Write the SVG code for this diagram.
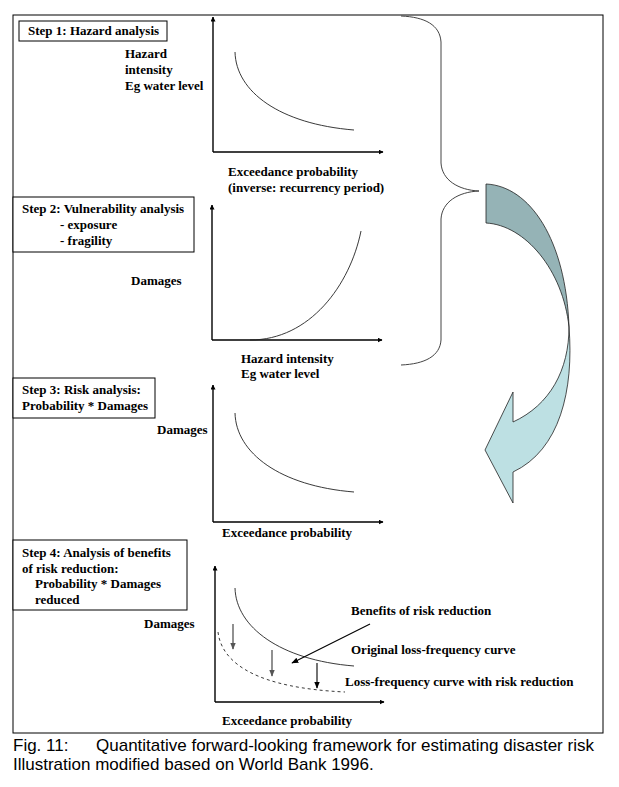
<svg xmlns="http://www.w3.org/2000/svg" width="619" height="787" viewBox="0 0 619 787">
<style>
.t{font-family:"Liberation Serif","Times New Roman",serif;font-weight:bold;font-size:13px;fill:#000}
.cap{font-family:"Liberation Sans",Arial,sans-serif;font-size:17px;fill:#000}
.box{fill:#fff;stroke:#000;stroke-width:1}
.ax{fill:none;stroke:#000;stroke-width:1.4}
.cv{fill:none;stroke:#222;stroke-width:0.9}
.dash{fill:none;stroke:#222;stroke-width:0.9;stroke-dasharray:3,3}
.brace{fill:none;stroke:#444;stroke-width:1}
</style>
<defs>
<marker id="ah" viewBox="0 0 10 10" refX="9" refY="5" markerWidth="5" markerHeight="5" orient="auto" markerUnits="userSpaceOnUse">
<path d="M0,0 L10,5 L0,10 Z" fill="#000"/>
</marker>
<marker id="ahs" viewBox="0 0 10 10" refX="9" refY="5" markerWidth="7" markerHeight="7" orient="auto" markerUnits="userSpaceOnUse">
<path d="M0,1 L10,5 L0,9 Z" fill="#000"/>
</marker>
<marker id="ahg" viewBox="0 0 10 10" refX="9" refY="5" markerWidth="7" markerHeight="7" orient="auto" markerUnits="userSpaceOnUse">
<path d="M0,1 L10,5 L0,9 Z" fill="#555"/>
</marker>
</defs>
<rect width="619" height="787" fill="#fff"/>
<rect x="13" y="15" width="590" height="718" fill="none" stroke="#000" stroke-width="1"/>

<g id="step1">
<rect class="box" x="19" y="21" width="148" height="20"/>
<text class="t" x="28" y="35">Step 1: Hazard analysis</text>
</g>
<g id="chart1">
<line class="ax" x1="213" y1="152" x2="213" y2="17" marker-end="url(#ah)"/>
<line class="ax" x1="213" y1="152" x2="383" y2="152" marker-end="url(#ah)"/>
<path class="cv" d="M235,52 C236,92 280,124 354,130"/>
<text class="t" x="125" y="58">Hazard</text>
<text class="t" x="125" y="74">intensity</text>
<text class="t" x="125" y="90">Eg water level</text>
<text class="t" x="228" y="176">Exceedance probability</text>
<text class="t" x="228" y="192">(inverse: recurrency period)</text>
</g>

<g id="step2">
<rect class="box" x="13" y="197" width="181" height="55"/>
<text class="t" x="22" y="213">Step 2: Vulnerability analysis</text>
<text class="t" x="60" y="229">- exposure</text>
<text class="t" x="60" y="245">- fragility</text>
</g>
<g id="chart2">
<line class="ax" x1="212" y1="340" x2="212" y2="205" marker-end="url(#ah)"/>
<line class="ax" x1="212" y1="340" x2="382" y2="340" marker-end="url(#ah)"/>
<path class="cv" d="M250,340 C310,340 350,285 361,231"/>
<text class="t" x="131" y="285">Damages</text>
<text class="t" x="241" y="363">Hazard intensity</text>
<text class="t" x="241" y="378">Eg water level</text>
</g>

<g id="step3">
<rect class="box" x="13" y="378" width="142" height="40"/>
<text class="t" x="22" y="394">Step 3: Risk analysis:</text>
<text class="t" x="22" y="410">Probability * Damages</text>
</g>
<g id="chart3">
<line class="ax" x1="213" y1="522" x2="213" y2="385" marker-end="url(#ah)"/>
<line class="ax" x1="213" y1="522" x2="383" y2="522" marker-end="url(#ah)"/>
<path class="cv" d="M235,413 C236,453 280,486 354,492"/>
<text class="t" x="157" y="434">Damages</text>
<text class="t" x="222" y="537">Exceedance probability</text>
</g>

<g id="step4">
<rect class="box" x="13" y="540" width="174" height="70"/>
<text class="t" x="22" y="557">Step 4: Analysis of benefits</text>
<text class="t" x="22" y="573">of risk reduction:</text>
<text class="t" x="35" y="588">Probability * Damages</text>
<text class="t" x="35" y="604">reduced</text>
</g>
<g id="chart4">
<line class="ax" x1="215" y1="702" x2="215" y2="566" marker-end="url(#ah)"/>
<line class="ax" x1="215" y1="702" x2="384" y2="702" marker-end="url(#ah)"/>
<path class="cv" d="M235,588 C236,627 280,660 354,666"/>
<path class="dash" d="M218,632 C222,665 260,688 345,692"/>
<text class="t" x="144" y="628">Damages</text>
<text class="t" x="351" y="615">Benefits of risk reduction</text>
<text class="t" x="351" y="654">Original loss-frequency curve</text>
<text class="t" x="345" y="686">Loss-frequency curve with risk reduction</text>
<text class="t" x="222" y="725">Exceedance probability</text>
</g>

<g id="connectors">
<line x1="233" y1="624" x2="233" y2="649" stroke="#555" stroke-width="1.3" marker-end="url(#ahg)"/>
<line x1="272" y1="650" x2="272" y2="676" stroke="#555" stroke-width="1.3" marker-end="url(#ahg)"/>
<line x1="317" y1="663" x2="317" y2="688" stroke="#000" stroke-width="1.1" marker-end="url(#ahs)"/>
<line x1="370" y1="624" x2="292" y2="663" stroke="#000" stroke-width="1.1" marker-end="url(#ahs)"/>
</g>

<g id="brace">
<path class="brace" d="M401,16 C425,17 440,25 441,42 L441,163 C442,180 458,190 479,191 C458,192 442,202 441,219 L441,340 C440,356 425,364 401,365"/>
</g>

<g id="curved-arrow">
<path d="M486,184 L486,223 C525,225 563,270 569,327 C566,240 530,186 486,184 Z" fill="#95b3b6" stroke="#222" stroke-width="0.8"/>
<path d="M569,327 C569,370 550,405 513,422 L513,392 L485,450 L513,503 L513,472 C560,450 574,390 569,327 Z" fill="#bde0e3" stroke="#222" stroke-width="0.8"/>
</g>

<g id="caption">
<text class="cap" x="13" y="751">Fig. 11:</text>
<text class="cap" x="96" y="751">Quantitative forward-looking framework for estimating disaster risk</text>
<text class="cap" x="13" y="770">Illustration modified based on World Bank 1996.</text>
</g>
</svg>
